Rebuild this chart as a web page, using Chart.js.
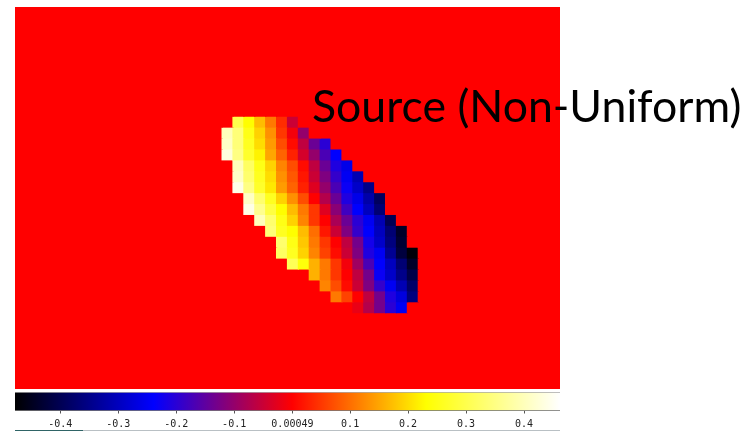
<!DOCTYPE html>
<html>
<head>
<meta charset="utf-8">
<script src="https://cdn.jsdelivr.net/npm/chart.js@4.4.1/dist/chart.umd.min.js"></script>
<style>
  html, body { margin: 0; padding: 0; background: #fff; }
  body { width: 755px; height: 432px; position: relative; overflow: hidden; }
  #heatBox { position: absolute; left: 15px; top: 7px; width: 545px; height: 382px; }
  #barBox { position: absolute; left: 15px; top: 391px; width: 545px; height: 41px; }
  #title { position: absolute; left: 312px; top: 83px; font-family: "Lato", "Open Sans", sans-serif;
           font-size: 44.6px; color: #000; white-space: nowrap; line-height: 1; z-index: 5; }
  #baseLine { position: absolute; left: 15px; top: 430px; width: 545px; height: 1px;
              background: linear-gradient(to right, #2f6466 0, #2f6466 68px, #b9c0c4 68px, #b9c0c4 100%); }
</style>
</head>
<body>
<div id="heatBox"><canvas id="heat"></canvas></div>
<div id="barBox"><canvas id="bar"></canvas></div>
<div id="title">Source (Non-Uniform)</div>
<div id="baseLine"></div>
<script>
// grid size of the source map
const nCols = 50;
const nRows = 35;
const backgroundValue = 0;

// colorbar range and ticks
const cbMin = -0.478;
const cbMax = 0.462;
const tickValues = [-0.4, -0.3, -0.2, -0.1, 0.00049, 0.1, 0.2, 0.3, 0.4];
const tickLabels = ['-0.4', '-0.3', '-0.2', '-0.1', '0.00049', '0.1', '0.2', '0.3', '0.4'];

// rows of the source blob: row index, first column, values left -> right
const blobRows = [10, 11, 12, 13, 14, 15, 16, 17, 18, 19, 20, 21, 22, 23, 24, 25, 26, 27];
const blobFirstCol = [20, 19, 19, 19, 20, 20, 20, 21, 21, 22, 23, 24, 24, 25, 27, 28, 29, 31];
const blobValues = [
  [0.30, 0.23, 0.17, 0.11, 0.04, -0.05],
  [0.40, 0.34, 0.25, 0.19, 0.13, 0.05, -0.01, -0.10],
  [0.41, 0.34, 0.26, 0.20, 0.14, 0.07, 0.01, -0.06, -0.14, -0.20],
  [0.43, 0.35, 0.27, 0.22, 0.15, 0.09, 0.03, -0.04, -0.10, -0.17, -0.24],
  [0.40, 0.32, 0.25, 0.19, 0.12, 0.07, 0.01, -0.06, -0.14, -0.21, -0.26],
  [0.41, 0.33, 0.26, 0.20, 0.13, 0.08, 0.02, -0.05, -0.12, -0.19, -0.25, -0.31],
  [0.44, 0.35, 0.27, 0.21, 0.14, 0.09, 0.03, -0.03, -0.10, -0.17, -0.23, -0.29, -0.35],
  [0.41, 0.33, 0.26, 0.19, 0.13, 0.07, 0.00, -0.07, -0.14, -0.21, -0.26, -0.32, -0.39],
  [0.44, 0.36, 0.29, 0.23, 0.17, 0.11, 0.05, -0.03, -0.11, -0.18, -0.24, -0.30, -0.37],
  [0.40, 0.33, 0.25, 0.19, 0.12, 0.05, 0.00, -0.08, -0.14, -0.20, -0.25, -0.31, -0.40],
  [0.34, 0.26, 0.23, 0.17, 0.10, 0.02, -0.05, -0.12, -0.19, -0.24, -0.30, -0.37, -0.44],
  [0.33, 0.25, 0.18, 0.11, 0.05, 0.00, -0.06, -0.13, -0.22, -0.29, -0.36, -0.43],
  [0.32, 0.26, 0.19, 0.12, 0.06, 0.01, -0.05, -0.12, -0.21, -0.25, -0.34, -0.42, -0.47],
  [0.31, 0.24, 0.16, 0.11, 0.05, -0.01, -0.09, -0.17, -0.24, -0.30, -0.37, -0.44],
  [0.16, 0.11, 0.05, 0.00, -0.06, -0.13, -0.23, -0.29, -0.35, -0.41],
  [0.12, 0.07, 0.01, -0.05, -0.12, -0.19, -0.25, -0.31, -0.38],
  [0.11, 0.06, 0.00, -0.06, -0.13, -0.21, -0.27, -0.36],
  [-0.02, -0.07, -0.13, -0.20, -0.25]
];

// black - blue - red - yellow - white
const cmapStops = [
  [cbMin, [0, 0, 0]],
  [cbMin / 2, [0, 0, 255]],
  [0, [255, 0, 0]],
  [cbMax / 2, [255, 255, 0]],
  [cbMax, [255, 255, 255]]
];

function colorOf(v) {
  v = Math.max(cbMin, Math.min(cbMax, v));
  for (let i = 1; i < cmapStops.length; i++) {
    const [v1, c1] = cmapStops[i];
    const [v0, c0] = cmapStops[i - 1];
    if (v <= v1) {
      const s = (v - v0) / (v1 - v0);
      const c = c0.map((a, k) => Math.round(a + (c1[k] - a) * s));
      return `rgb(${c[0]},${c[1]},${c[2]})`;
    }
  }
  return 'rgb(255,255,255)';
}

// full grid, background everywhere, blob written in
const grid = [];
for (let r = 0; r < nRows; r++) grid.push(new Array(nCols).fill(backgroundValue));
blobRows.forEach((r, i) => {
  blobValues[i].forEach((v, k) => { grid[r][blobFirstCol[i] + k] = v; });
});

// each row is one stacked dataset, one unit tall
const colLabels = Array.from({ length: nCols }, (_, i) => i);
const heatDatasets = grid.map((row, r) => ({
  label: 'row ' + r,
  data: row.map(() => 1),
  backgroundColor: row.map(colorOf),
  borderWidth: 0,
  inflateAmount: 0.6,
  barPercentage: 1,
  categoryPercentage: 1
}));

new Chart(document.getElementById('heat'), {
  type: 'bar',
  data: { labels: colLabels, datasets: heatDatasets },
  options: {
    responsive: true,
    maintainAspectRatio: false,
    animation: false,
    layout: { padding: 0 },
    plugins: { legend: { display: false }, tooltip: { enabled: false } },
    scales: {
      x: { stacked: true, display: false },
      y: { stacked: true, display: false, min: 0, max: nRows, reverse: true }
    }
  }
});

// colorbar
new Chart(document.getElementById('bar'), {
  type: 'bar',
  data: {
    labels: [''],
    datasets: [{
      data: [[cbMin, cbMax]],
      backgroundColor: (context) => {
        const { ctx, chartArea } = context.chart;
        if (!chartArea) return null;
        const g = ctx.createLinearGradient(chartArea.left, 0, chartArea.right, 0);
        cmapStops.forEach(([v, c]) => {
          g.addColorStop((v - cbMin) / (cbMax - cbMin), `rgb(${c[0]},${c[1]},${c[2]})`);
        });
        return g;
      },
      borderColor: '#a8a8a8',
      borderWidth: { top: 1, right: 0, bottom: 0, left: 0 },
      borderSkipped: false,
      barPercentage: 1,
      categoryPercentage: 1
    }]
  },
  options: {
    indexAxis: 'y',
    responsive: true,
    maintainAspectRatio: false,
    animation: false,
    layout: { padding: { top: 1, bottom: 3, left: 0, right: 0 } },
    plugins: { legend: { display: false }, tooltip: { enabled: false } },
    scales: {
      x: {
        type: 'linear',
        min: cbMin,
        max: cbMax,
        afterBuildTicks: (axis) => { axis.ticks = tickValues.map(v => ({ value: v })); },
        ticks: {
          autoSkip: false,
          maxRotation: 0,
          padding: 5,
          color: '#222',
          font: { family: 'DejaVu Sans Mono', size: 10 },
          callback: (v, i) => tickLabels[i]
        },
        grid: { drawOnChartArea: false, drawTicks: true, tickLength: 3, color: '#555' },
        border: { display: true, color: '#777' }
      },
      y: { display: false }
    }
  }
});
</script>
</body>
</html>
